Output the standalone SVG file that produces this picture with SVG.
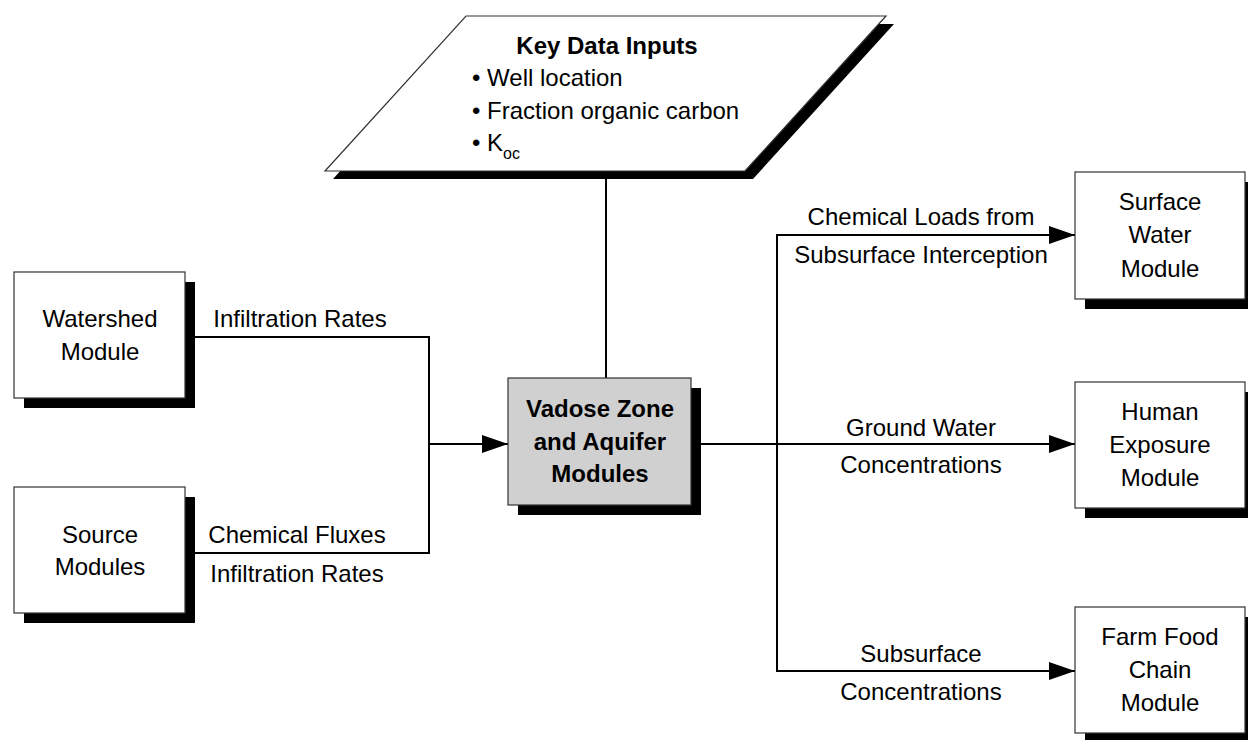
<svg xmlns="http://www.w3.org/2000/svg" width="1248" height="740" viewBox="0 0 1248 740">
  <defs>
    <style>
      .lbl { font-family: "Liberation Sans", Arial, sans-serif; font-size: 24px; fill: #000; text-anchor: middle; }
      .bold { font-weight: bold; }
      .left { text-anchor: start; }
      .box { fill: #fff; stroke: #333; stroke-width: 1.2; }
      .core { fill: #d0d0d0; stroke: #333; stroke-width: 1.2; }
      .shadow { fill: #000; }
      .wire { fill: none; stroke: #000; stroke-width: 2; }
    </style>
    <marker id="arrow" markerWidth="26" markerHeight="18" refX="26" refY="9" orient="auto" markerUnits="userSpaceOnUse">
      <path d="M0,0 L26,9 L0,18 Z" fill="#000"/>
    </marker>
  </defs>
  <rect width="1248" height="740" fill="#fff"/>

  <!-- connectors -->
  <g id="connectors">
    <path class="wire" d="M606,179 V378"/>
    <path class="wire" d="M185,337 H429 V553 H185"/>
    <path class="wire" d="M429,444 H508" marker-end="url(#arrow)"/>
    <path class="wire" d="M691,444 H1075" marker-end="url(#arrow)"/>
    <path class="wire" d="M1075,235 H777 V671 H1075" marker-end="url(#arrow)"/>
    <path class="wire" d="M777,235 H1075" marker-end="url(#arrow)"/>
  </g>

  <!-- connector labels -->
  <g id="labels">
    <text class="lbl" x="300" y="327">Infiltration Rates</text>
    <text class="lbl" x="297" y="543">Chemical Fluxes</text>
    <text class="lbl" x="297" y="582">Infiltration Rates</text>
    <text class="lbl" x="921" y="225">Chemical Loads from</text>
    <text class="lbl" x="921" y="263">Subsurface Interception</text>
    <text class="lbl" x="921" y="436">Ground Water</text>
    <text class="lbl" x="921" y="473">Concentrations</text>
    <text class="lbl" x="921" y="662">Subsurface</text>
    <text class="lbl" x="921" y="700">Concentrations</text>
  </g>

  <!-- data input parallelogram -->
  <g id="key-data-inputs">
    <polygon class="shadow" points="474,24 894,24 753,179 333,179"/>
    <polygon class="box" points="466,16 886,16 745,171 325,171"/>
    <text class="lbl bold" x="607" y="54">Key Data Inputs</text>
    <text class="lbl left" x="472" y="86">• Well location</text>
    <text class="lbl left" x="472" y="119">• Fraction organic carbon</text>
    <text class="lbl left" x="472" y="151">• K<tspan font-size="16" dx="0" dy="8">oc</tspan></text>
  </g>

  <g id="watershed">
    <rect class="shadow" x="24" y="282" width="171" height="126"/>
    <rect class="box" x="14" y="272" width="171" height="126"/>
    <text class="lbl" x="100" y="327">Watershed</text>
    <text class="lbl" x="100" y="360">Module</text>
  </g>

  <g id="source">
    <rect class="shadow" x="24" y="497" width="171" height="126"/>
    <rect class="box" x="14" y="487" width="171" height="126"/>
    <text class="lbl" x="100" y="543">Source</text>
    <text class="lbl" x="100" y="575">Modules</text>
  </g>

  <g id="vadose-aquifer">
    <rect class="shadow" x="518" y="388" width="183" height="127"/>
    <rect class="core" x="508" y="378" width="183" height="127"/>
    <text class="lbl bold" x="600" y="417">Vadose Zone</text>
    <text class="lbl bold" x="600" y="450">and Aquifer</text>
    <text class="lbl bold" x="600" y="482">Modules</text>
  </g>

  <g id="surface-water">
    <rect class="shadow" x="1085" y="182" width="170" height="127"/>
    <rect class="box" x="1075" y="172" width="170" height="127"/>
    <text class="lbl" x="1160" y="210">Surface</text>
    <text class="lbl" x="1160" y="243">Water</text>
    <text class="lbl" x="1160" y="277">Module</text>
  </g>

  <g id="human-exposure">
    <rect class="shadow" x="1085" y="392" width="170" height="126"/>
    <rect class="box" x="1075" y="382" width="170" height="126"/>
    <text class="lbl" x="1160" y="420">Human</text>
    <text class="lbl" x="1160" y="453">Exposure</text>
    <text class="lbl" x="1160" y="486">Module</text>
  </g>

  <g id="farm-food-chain">
    <rect class="shadow" x="1085" y="617" width="170" height="126"/>
    <rect class="box" x="1075" y="607" width="170" height="126"/>
    <text class="lbl" x="1160" y="645">Farm Food</text>
    <text class="lbl" x="1160" y="678">Chain</text>
    <text class="lbl" x="1160" y="711">Module</text>
  </g>
</svg>
